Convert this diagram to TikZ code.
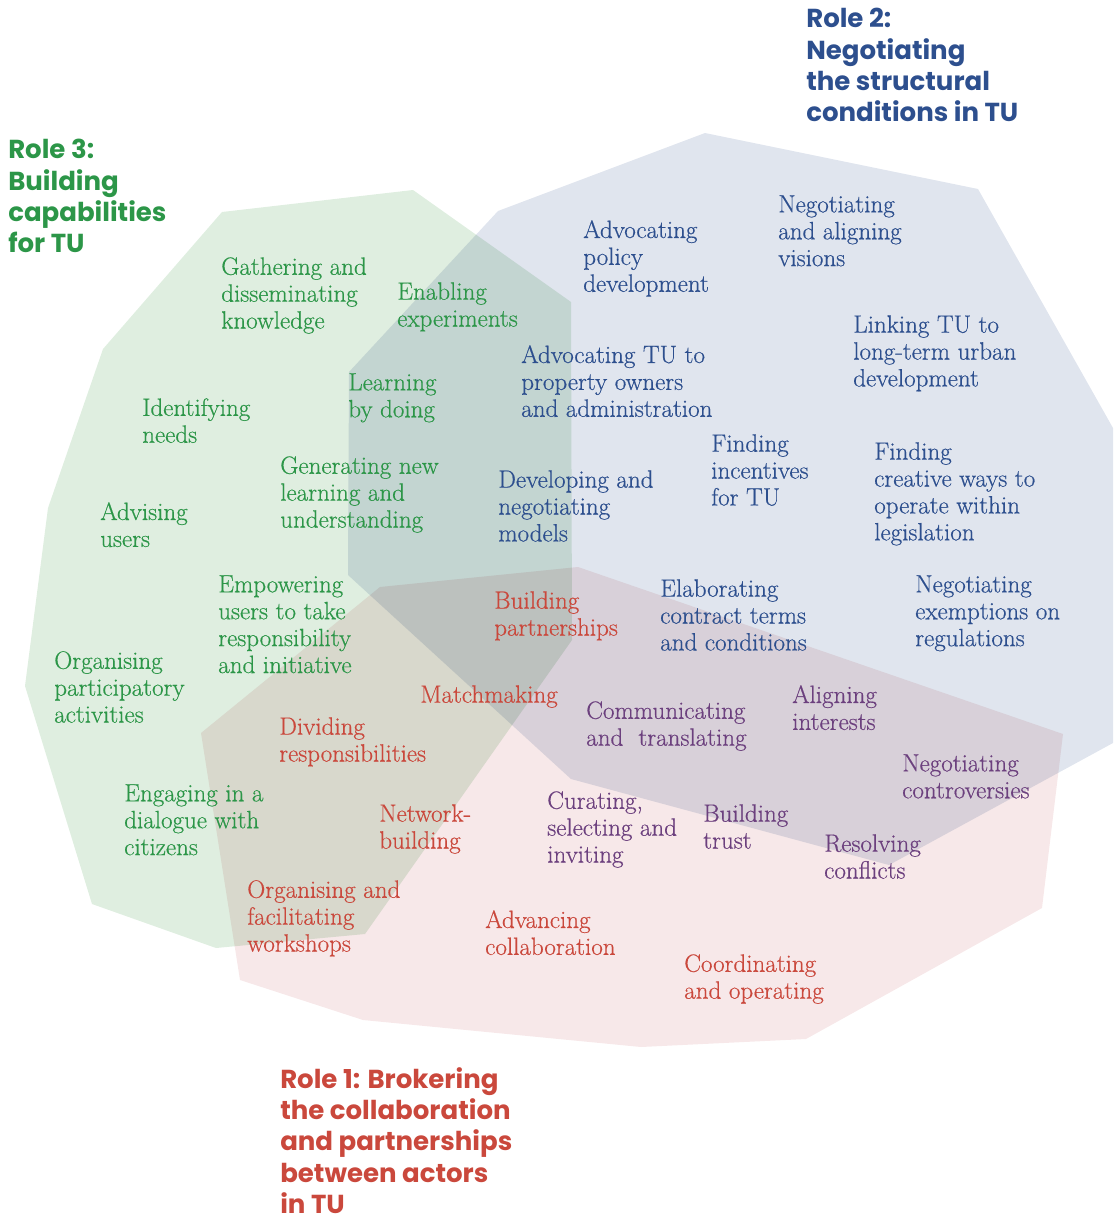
\documentclass[tikz,border=0pt]{standalone}
\usepackage{fontspec}
\newfontfamily\rolefont{Poppins}
\newfontfamily\actfont{Latin Modern Roman}[FakeBold=0.5]

\definecolor{greenfill}{RGB}{223,238,224}
\definecolor{bluefill}{RGB}{224,229,238}
\definecolor{redfill}{RGB}{247,232,233}
\definecolor{greentext}{RGB}{44,150,72}
\definecolor{bluetext}{RGB}{45,79,142}
\definecolor{redtext}{RGB}{202,72,60}
\definecolor{purpletext}{RGB}{108,64,126}

\begin{document}
\begin{tikzpicture}[x=0.025cm, y=-0.025cm,
    zone/.style={blend mode=multiply},
    act/.style={anchor=north west, inner sep=0pt, align=left, font={\actfont\fontsize{17.8}{19.13}\selectfont}},
    role/.style={anchor=north west, inner sep=0pt, align=left, font={\rolefont\bfseries\fontsize{18.5}{22.3}\selectfont}}]
    \useasboundingbox (0,0) rectangle (1119,1218);

    % Role areas
    \fill[greenfill, zone] (222,212) -- (413,190) -- (571,302) -- (572,640) -- (365,934) -- (216,948) -- (92,904) -- (25,686) -- (48,508) -- (103,349) -- cycle;
    \fill[bluefill, zone] (498,211) -- (705,133) -- (978,189) -- (1113,428) -- (1113,743) -- (889,865) -- (571,779) -- (348,575) -- (349,372) -- cycle;
    \fill[redfill, zone] (380,587) -- (578,567) -- (1063,734) -- (1042,908) -- (806,1039) -- (641,1047) -- (363,1020) -- (240,980) -- (201,733) -- cycle;

    % Role titles
    \node[role, text=greentext] (role3) at (8,139) {Role 3:\\Building\\capabilities\\for TU};
    \node[role, text=bluetext] (role2) at (806,8) {Role 2:\\Negotiating\\the structural\\conditions in TU};
    \node[role, text=redtext] (role1) at (280,1067) {Role 1: Brokering\\the collaboration\\and partnerships\\between actors\\in TU};

    % Role 3 activities
    \node[act, text=greentext] (gather) at (221,257) {Gathering and\\disseminating\\knowledge};
    \node[act, text=greentext] (enable) at (397,282) {Enabling\\experiments};
    \node[act, text=greentext] (learn) at (348,373) {Learning\\by doing};
    \node[act, text=greentext] (identify) at (142,398) {Identifying\\needs};
    \node[act, text=greentext] (generate) at (280,456) {Generating new\\learning and\\understanding};
    \node[act, text=greentext] (advise) at (100,502) {Advising\\users};
    \node[act, text=greentext] (empower) at (218,575) {Empowering\\users to take\\responsibility\\and initiative};
    \node[act, text=greentext] (organise) at (54,651) {Organising\\participatory\\activities};
    \node[act, text=greentext] (engage) at (124,784) {Engaging in a\\dialogue with\\citizens};

    % Role 2 activities
    \node[act, text=bluetext] (policy) at (583,220) {Advocating\\policy\\development};
    \node[act, text=bluetext] (visions) at (778,195) {Negotiating\\and aligning\\visions};
    \node[act, text=bluetext] (linking) at (853,315) {Linking TU to\\long-term urban\\development};
    \node[act, text=bluetext] (owners) at (521,345) {Advocating TU to\\property owners\\and administration};
    \node[act, text=bluetext] (incentives) at (711,434) {Finding\\incentives\\for TU};
    \node[act, text=bluetext] (creative) at (874,442) {Finding\\creative ways to\\operate within\\legislation};
    \node[act, text=bluetext] (models) at (498,470) {Developing and\\negotiating\\models};
    \node[act, text=bluetext] (contract) at (660,579) {Elaborating\\contract terms\\and conditions};
    \node[act, text=bluetext] (exempt) at (915,575) {Negotiating\\exemptions on\\regulations};

    % Role 1 activities
    \node[act, text=redtext] (partner) at (494,591) {Building\\partnerships};
    \node[act, text=redtext] (match) at (420,685) {Matchmaking};
    \node[act, text=redtext] (divide) at (279,717) {Dividing\\responsibilities};
    \node[act, text=redtext] (network) at (379,804) {Network-\\building};
    \node[act, text=redtext] (workshop) at (247,880) {Organising and\\facilitating\\workshops};
    \node[act, text=redtext] (advance) at (485,910) {Advancing\\collaboration};
    \node[act, text=redtext] (coord) at (684,954) {Coordinating\\and operating};

    % Shared activities
    \node[act, text=purpletext] (comm) at (586,701) {Communicating\\and\ \ translating};
    \node[act, text=purpletext] (interests) at (792,685) {Aligning\\interests};
    \node[act, text=purpletext] (controv) at (902,754) {Negotiating\\controversies};
    \node[act, text=purpletext] (curate) at (547,791) {Curating,\\selecting and\\inviting};
    \node[act, text=purpletext] (trust) at (703,804) {Building\\trust};
    \node[act, text=purpletext] (resolve) at (824,834) {Resolving\\conflicts};
\end{tikzpicture}
\end{document}
